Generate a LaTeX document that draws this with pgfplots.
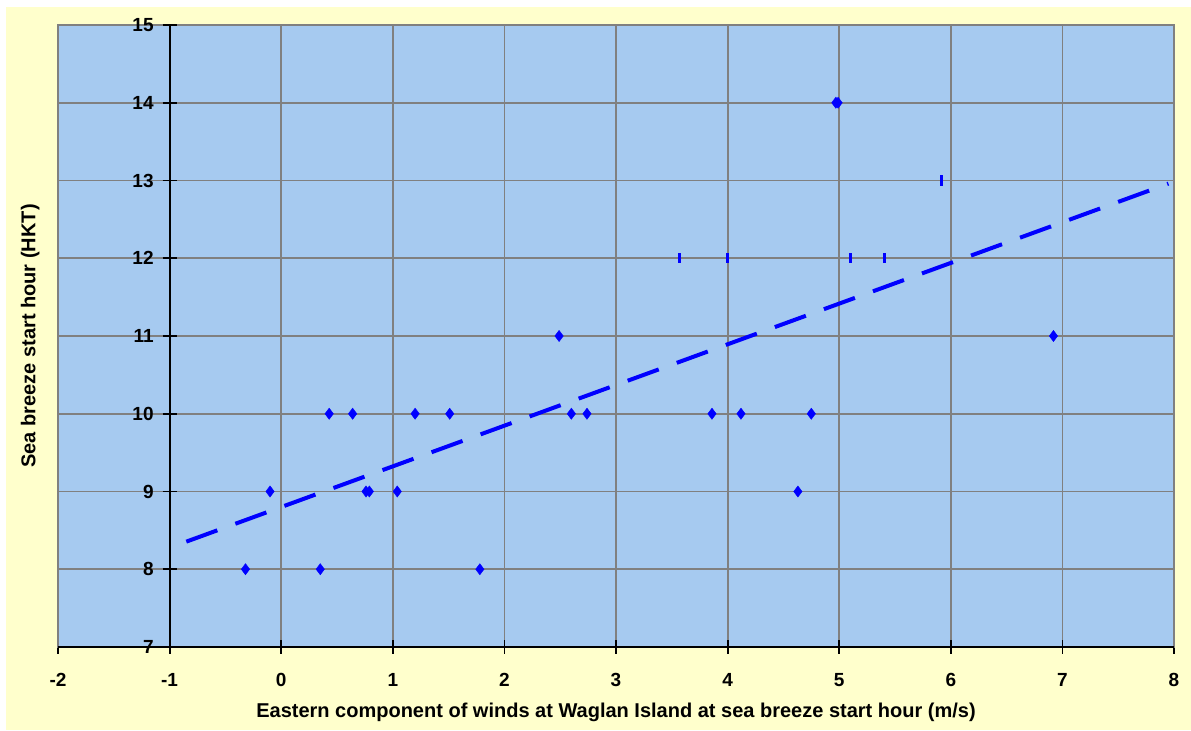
\documentclass[border=0pt]{standalone}
\usepackage{pgfplots}
\pgfplotsset{compat=1.18}
\usepackage{fontspec}
\setmainfont{Liberation Sans}
\definecolor{bgyellow}{RGB}{255,255,204}
\definecolor{plotblue}{RGB}{166,202,240}
\definecolor{gridgray}{RGB}{128,128,128}
\begin{document}
\begin{tikzpicture}
\useasboundingbox (0,0) rectangle (595.5pt,365.5pt);
\fill[white] (0,0) rectangle (595.5pt,365.5pt);
\fill[bgyellow] (3pt,0.5pt) rectangle (595.5pt,362pt);
\begin{axis}[
  at={(29pt,42pt)}, anchor=south west,
  scale only axis, width=558pt, height=311pt,
  xmin=-2, xmax=8, ymin=7, ymax=15,
  xtick={-2,...,8}, ytick={7,...,15},
  axis background/.style={fill=plotblue},
  grid=major,
  grid style={gridgray, line width=0.9pt},
  axis line style={gridgray, line width=0.9pt},
  xtick pos=bottom, ytick pos=left,
  xtick align=center,
  major tick length=7pt,
  xtick style={black, line width=0.9pt},
  ytick style={draw=none},
  font=\bfseries\fontsize{9.5}{11}\selectfont,
  /pgf/number format/assume math mode=true,
  xticklabel style={anchor=base, yshift=-16.5pt, inner sep=0pt, font=\bfseries\fontsize{9.5}{11}\selectfont},
  yticklabel style={anchor=east, inner sep=0pt, xshift=48pt, font=\bfseries\fontsize{9.5}{11}\selectfont},
  xlabel={Eastern component of winds at Waglan Island at sea breeze start hour (m/s)},
  ylabel={Sea breeze start hour (HKT)},
  xlabel style={at={(axis description cs:0.5,-0.114)}, anchor=base, inner sep=0pt, font=\bfseries\fontsize{10}{12}\selectfont},
  ylabel style={at={(axis description cs:-0.025,0.5)}, anchor=center, rotate=0, inner sep=0pt, font=\bfseries\fontsize{10}{12}\selectfont},
  clip=false,
]
\draw[black, line width=0.9pt] (axis cs:-2,7) -- (axis cs:8,7);
\draw[black, line width=0.9pt] (axis cs:-1,7) -- (axis cs:-1,15);
\pgfplotsinvokeforeach{8,9,10,11,12,13,14,15}{
  \draw[black, line width=0.9pt] ([xshift=-3.5pt]axis cs:-1,#1) -- ([xshift=3.5pt]axis cs:-1,#1);
}
\addplot[only marks, mark=diamond*, mark size=2.8pt, mark options={fill=blue, draw=blue, line width=0.2pt}] coordinates {
(-0.32,8) (0.35,8) (1.78,8)
(-0.10,9) (0.76,9) (0.79,9) (1.04,9) (4.63,9)
(0.43,10) (0.64,10) (1.20,10) (1.51,10) (2.60,10) (2.74,10) (3.86,10) (4.12,10) (4.75,10)
(2.49,11) (6.92,11)
(4.97,14) (4.99,14)
};
\addplot[only marks, mark=|, mark size=2.6pt, mark options={draw=blue, line width=1.5pt}] coordinates {
(3.57,12) (4.00,12) (5.10,12) (5.41,12) (5.92,13)
};
\addplot[blue, line width=2pt, dash pattern=on 16.5pt off 9.6pt] coordinates {
(-0.85,8.355) (7.95,12.96)
};
\end{axis}
\end{tikzpicture}
\end{document}
